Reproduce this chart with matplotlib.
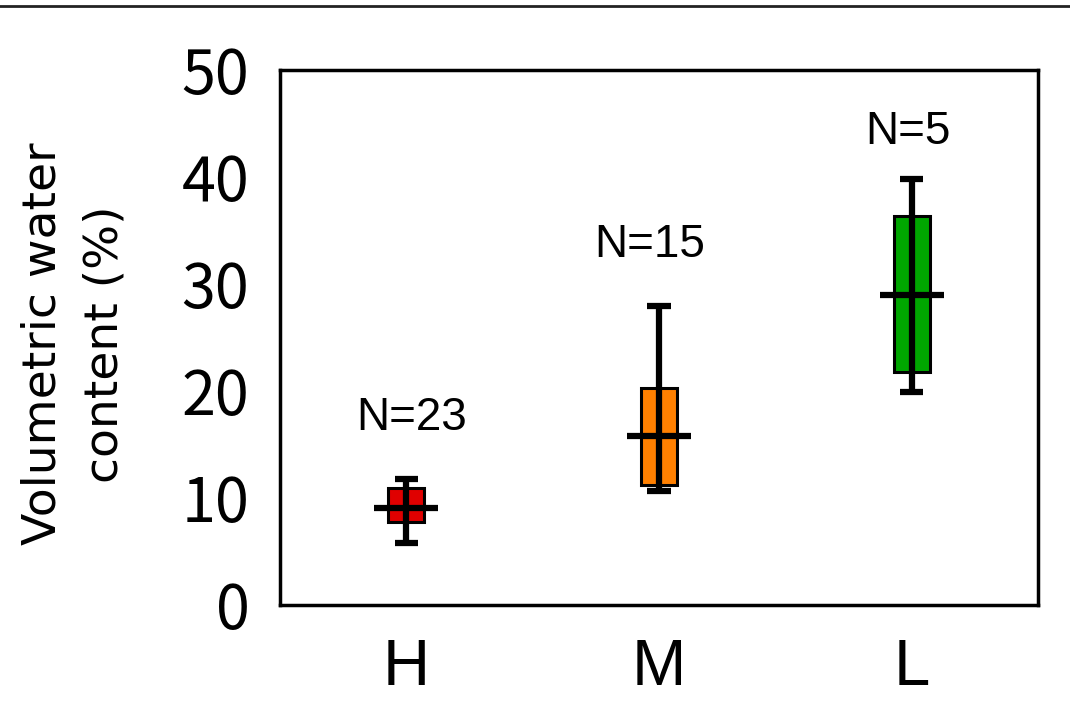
import numpy as np
import matplotlib.pyplot as plt
from matplotlib.lines import Line2D

# moisture class summary: whisker ends, quartiles and median (%)
groups = ['H', 'M', 'L']
lo = [5.8, 10.7, 19.9]
q1 = [7.8, 11.2, 21.8]
med = [9.1, 15.8, 29.0]
q3 = [10.9, 20.3, 36.4]
hi = [11.8, 27.9, 39.8]
n_obs = [23, 15, 5]
n_label_x = [1.02, 1.965, 2.985]
n_label_y = [17.5, 33.6, 44.2]
colors = ['#E00000', '#FF8000', '#00A600']

fig = plt.figure(figsize=(10.7, 7.23), dpi=100)
ax = fig.add_axes([280/1070, 1-605/723, 758/1070, 535/723])

x = np.arange(1, len(groups)+1)
ax.bar(x, np.array(q3)-np.array(q1), bottom=q1, width=0.142, color=colors,
       edgecolor='black', linewidth=2.2, zorder=2)
ax.vlines(x, lo, hi, color='black', lw=4.5, zorder=3)
for xi, a, b in zip(x, lo, hi):
    ax.hlines([a, b], xi-0.046, xi+0.046, color='black', lw=4.5, zorder=3)
ax.hlines(med, x-0.127, x+0.127, color='black', lw=4.5, zorder=4)

for xl, n, yl in zip(n_label_x, n_obs, n_label_y):
    ax.text(xl, yl, 'N=%d' % n, ha='center', va='center', fontsize=33,
            family='Liberation Sans')

ax.set_xlim(0.5, 3.5)
ax.set_ylim(0, 50)
ax.set_xticks(x)
ax.set_xticklabels(groups, fontsize=47, family='Liberation Sans')
ax.set_yticks(range(0, 51, 10))
ax.set_yticklabels([str(v) for v in range(0, 51, 10)], fontsize=44,
                   family='Noto Sans CJK JP')
ax.tick_params(axis='both', length=0)
ax.tick_params(axis='y', pad=22)
ax.tick_params(axis='x', pad=24)
for s in ax.spines.values():
    s.set_linewidth(2.5)

fig.text(74/1070, 1-344/723, 'Volumetric water\ncontent (%)', rotation=90,
         ha='center', va='center', multialignment='center', fontsize=34,
         linespacing=1.5, family='DejaVu Sans')

# rule across the top of the figure
fig.add_artist(Line2D([0, 1], [1-5.5/723, 1-5.5/723], color='#222222', lw=2))

fig.savefig('out.png', dpi=100)
